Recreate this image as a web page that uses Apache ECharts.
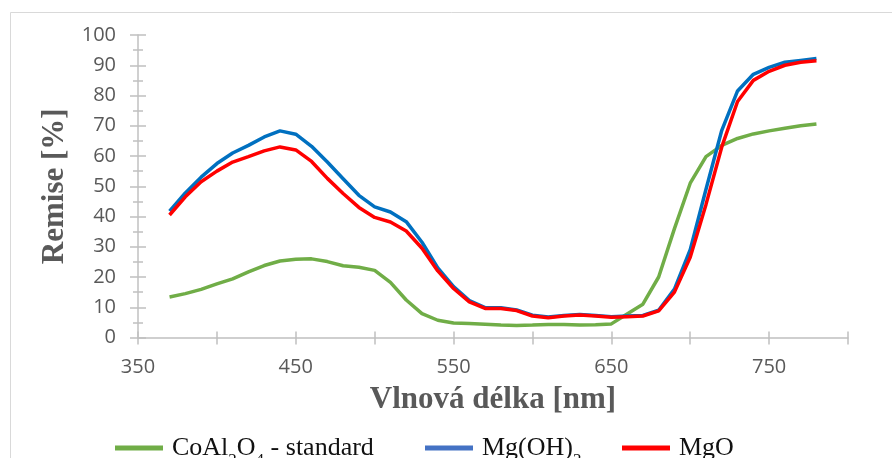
<!DOCTYPE html>
<html>
<head>
<meta charset="utf-8">
<script src="https://cdn.jsdelivr.net/npm/echarts@6/dist/echarts.min.js"></script>
<style>
html,body{margin:0;padding:0;background:#fff;}
#chart{width:892px;height:458px;}
</style>
</head>
<body>
<div id="chart"></div>
<script>
// Wavelength [nm]
var wavelengths = [370,380,390,400,410,420,430,440,450,460,470,480,490,500,510,520,530,540,550,560,570,580,590,600,610,620,630,640,650,660,670,680,690,700,710,720,730,740,750,760,770,780];
// CoAl2O4 - standard
var coal2o4 = [13.4,14.5,15.9,17.7,19.4,21.7,23.8,25.3,25.9,26.0,25.1,23.7,23.2,22.2,18.2,12.4,7.9,5.7,4.8,4.6,4.4,4.1,4.0,4.1,4.3,4.3,4.1,4.2,4.5,7.8,11.0,20.0,36.0,51.0,59.8,63.5,65.8,67.3,68.3,69.2,70.0,70.6];
// Mg(OH)2
var mgoh2 = [41.8,47.8,53.0,57.5,61.0,63.5,66.3,68.3,67.2,63.2,58.0,52.5,47.0,43.2,41.5,38.3,31.5,23.0,16.8,12.2,9.9,9.8,9.1,7.4,6.8,7.3,7.6,7.3,6.9,7.1,7.3,9.0,16.0,29.0,49.0,68.5,81.5,87.0,89.3,91.0,91.6,92.2];
// MgO
var mgo = [40.5,46.5,51.5,55.0,58.0,59.8,61.7,63.0,62.0,58.2,52.6,47.6,43.0,39.7,38.2,35.2,29.5,22.0,16.2,11.8,9.6,9.6,8.9,7.1,6.5,7.1,7.4,7.1,6.7,6.9,7.1,8.8,15.0,26.5,44.0,63.0,78.0,85.0,88.0,90.0,91.0,91.5];
var xTickLabels = [350,450,550,650,750];
var seriesNames = ['CoAl2O4 - standard','Mg(OH)2','MgO'];

function pairs(vals){ return wavelengths.map(function(w,i){ return [w, vals[i]]; }); }

var axisGray = '#c0c0c0';
var labelGray = '#595959';
var labelFont = '"Open Sans", "Noto Sans", sans-serif';
var serif = '"Liberation Serif", "Times New Roman", serif';

var richLegend = {
  a: {fontFamily: serif, fontSize: 26, color: '#111', lineHeight: 30, verticalAlign: 'middle'},
  p: {fontFamily: serif, fontSize: 26, color: '#111', lineHeight: 30, verticalAlign: 'middle', padding: [0,0,0,4]},
  s: {fontFamily: serif, fontSize: 17, color: '#111', lineHeight: 30, verticalAlign: 'bottom', padding: [0,0,-6,0]}
};
function legendFmt(name){
  if (name === seriesNames[0]) return '{p|CoAl}{s|2}{a|O}{s|4}{a| - standard}';
  if (name === seriesNames[1]) return '{p|Mg(OH)}{s|2}';
  return '{p|MgO}';
}
function mkLegend(name, color, left){
  return {
    data: [{name: name, itemStyle: {color: color}}],
    left: left, top: 430,
    icon: 'rect', itemWidth: 48, itemHeight: 5,
    selectedMode: false,
    textStyle: {rich: richLegend},
    formatter: legendFmt
  };
}

var chart = echarts.init(document.getElementById('chart'), null, {renderer: 'canvas'});
var xBase = {
  type: 'value', min: 350, max: 800, interval: 50, position: 'bottom',
  splitLine: {show: false}
};
var yBase = {
  type: 'value', min: 0, max: 100, interval: 10, position: 'left',
  splitLine: {show: false}
};
chart.setOption({
  animation: false,
  backgroundColor: '#fff',
  graphic: [{
    type: 'rect', silent: true, z: -10,
    shape: {x: 10.5, y: 12.5, width: 1000, height: 1000},
    style: {fill: 'none', stroke: '#d9d9d9', lineWidth: 1}
  }],
  grid: {left: 138, top: 35, width: 710, height: 302.5, containLabel: false},
  legend: [
    mkLegend(seriesNames[0], '#70AD47', 110),
    mkLegend(seriesNames[1], '#4472C4', 420),
    mkLegend(seriesNames[2], '#FF0000', 617)
  ],
  xAxis: [
    Object.assign({}, xBase, {
      name: 'Vlnová délka [nm]', nameLocation: 'middle', nameGap: 47,
      nameTextStyle: {fontFamily: serif, fontWeight: 'bold', fontSize: 31, color: labelGray},
      axisLine: {show: true, onZero: false, lineStyle: {color: axisGray, width: 1.5}},
      axisTick: {show: true, length: 7, lineStyle: {color: axisGray, width: 1.5}},
      axisLabel: {
        margin: 20, color: labelGray, fontFamily: labelFont, fontSize: 20,
        formatter: function(v){ return xTickLabels.indexOf(v) >= 0 ? String(v) : ''; }
      }
    }),
    Object.assign({}, xBase, {
      axisLine: {show: false},
      axisTick: {show: true, inside: true, length: 6, lineStyle: {color: axisGray, width: 1.5}},
      axisLabel: {show: false}
    })
  ],
  yAxis: [
    Object.assign({}, yBase, {
      name: 'Remise [%]', nameLocation: 'middle', nameGap: 67,
      nameTextStyle: {fontFamily: serif, fontWeight: 'bold', fontSize: 31, color: labelGray},
      axisLine: {show: true, onZero: false, lineStyle: {color: axisGray, width: 1.5}},
      axisTick: {show: true, length: 8, lineStyle: {color: axisGray, width: 1.5}},
      minorTick: {show: true, splitNumber: 2, length: 5, lineStyle: {color: axisGray, width: 1.5}},
      axisLabel: {margin: 22, color: labelGray, fontFamily: labelFont, fontSize: 20}
    }),
    Object.assign({}, yBase, {
      axisLine: {show: false},
      axisTick: {show: true, inside: true, length: 8, lineStyle: {color: axisGray, width: 1.5}},
      minorTick: {show: true, splitNumber: 2, length: 5, lineStyle: {color: axisGray, width: 1.5}},
      axisLabel: {show: false}
    })
  ],
  series: [
    {name: seriesNames[0], type: 'line', data: pairs(coal2o4), showSymbol: false, symbol: 'none',
     lineStyle: {color: '#70AD47', width: 3.5}, itemStyle: {color: '#70AD47'}, z: 2},
    {name: seriesNames[1], type: 'line', data: pairs(mgoh2), showSymbol: false, symbol: 'none',
     lineStyle: {color: '#0070C0', width: 3.5}, itemStyle: {color: '#0070C0'}, z: 3},
    {name: seriesNames[2], type: 'line', data: pairs(mgo), showSymbol: false, symbol: 'none',
     lineStyle: {color: '#FF0000', width: 3.5}, itemStyle: {color: '#FF0000'}, z: 4}
  ]
});
</script>
</body>
</html>
